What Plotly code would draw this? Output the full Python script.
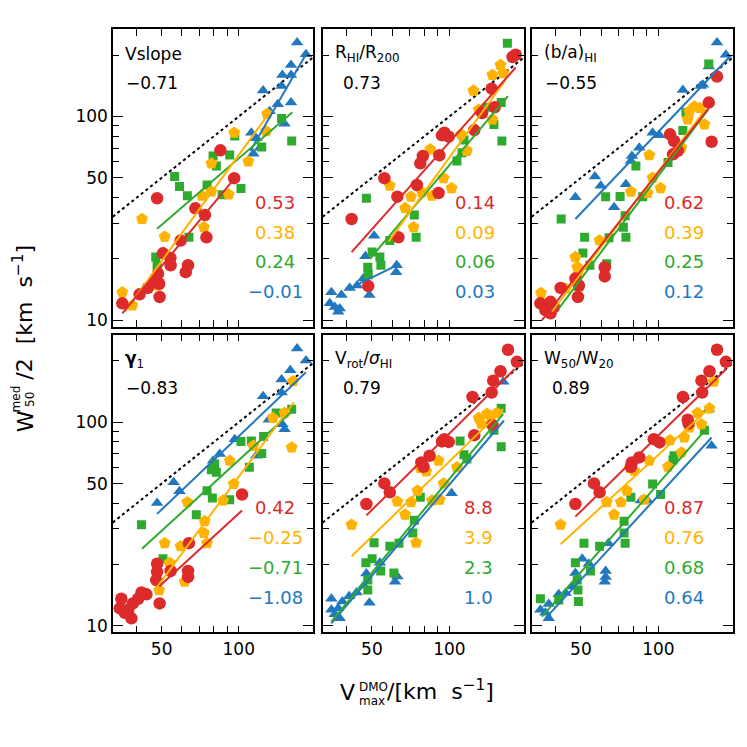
import plotly.graph_objects as go
from plotly.subplots import make_subplots

# ---------------- data ----------------
# Panel 1: Vslope
vslope_red_x = [48.0, 84.8, 96, 67.7, 73.8, 74.8, 59.3, 50.6, 54.1, 54.2, 63.4, 62.1, 48.4, 47.0, 48.9, 44.2, 41.0, 49.1, 35.1]
vslope_red_y = [39.7, 68.2, 49.8, 35.4, 32.8, 25.5, 24.6, 21.3, 20.2, 18.6, 18.6, 17.2, 16.9, 15.9, 15.1, 14.4, 13.4, 13.0, 12.1]
vslope_orange_x = [41.9, 96, 129, 128, 109, 78.2, 71.9, 78.2, 91.4, 73.1, 51.4, 35.1, 38.4, 48.4]
vslope_orange_y = [31.4, 83.2, 103, 84.7, 60.2, 58.8, 40.8, 42.8, 41.4, 28.6, 25.7, 13.7, 11.8, 14.8]
vslope_green_x = [56.2, 58.7, 63.0, 75.2, 79.4, 81.8, 92.2, 96.5, 102, 86.1, 123, 147, 161, 63.9, 47.4, 48.0]
vslope_green_y = [50.7, 45.3, 40.8, 46.1, 64.0, 57.2, 64.7, 80.1, 44.3, 41.3, 70.8, 97.8, 75.8, 25.5, 20.4, 18.6]
vslope_blue_x = [169, 183, 160, 148, 160, 124.5, 147, 142, 160, 132, 151, 112, 117, 114, 121]
vslope_blue_y = [231, 202, 179, 160, 160, 134, 141, 115, 117, 106, 92.1, 83.2, 78.1, 65.7, 70.3]
vslope_fit_x = [[35.1, 99.4], [35.9, 133], [48.0, 162], [111, 181]]
vslope_fit_y = [[10.8, 52.1], [11.0, 106], [28.1, 105], [67.8, 197]]

# Panel 2: R_HI / R_200
rhi_red_x = [181, 176, 146, 150, 134, 125, 95.6, 99.4, 93.6, 91.4, 78.9, 77.1, 55.9, 74.8, 62.8, 90.8, 41.7, 63.4, 48.4]
rhi_red_y = [201, 196, 137, 111, 104, 85.8, 83.2, 79.6, 80.8, 64.5, 64.0, 58.9, 49.8, 46.1, 40.4, 42.1, 31.4, 25.5, 14.7]
rhi_orange_x = [158, 147, 162, 124, 130, 147, 111, 84.3, 117, 95.0, 102, 58.7, 70.9, 78.2, 85.6, 67.3, 72.6]
rhi_orange_y = [179, 160, 163, 134, 108, 96.7, 81.7, 69.0, 67.8, 49.8, 44.5, 45.7, 40.4, 42.4, 40.8, 35.5, 28.6]
rhi_green_x = [168, 159, 140, 149, 160, 114, 112, 107, 47.6, 73.1, 74.3, 58.7, 50.1, 53.7, 54.2, 48.2, 48.4]
rhi_green_y = [229, 117, 111, 91.4, 75.8, 76.6, 66.4, 60.5, 39.7, 32.8, 25.5, 24.6, 21.6, 20.4, 18.6, 18.2, 16.7]
rhi_blue_x = [51.0, 47.2, 62.4, 62.1, 46.3, 48.9, 43.8, 41.0, 38.1, 34.8, 34.3, 35.9, 37.5, 37.0]
rhi_blue_y = [26.0, 20.6, 18.6, 17.2, 16.0, 13.3, 14.8, 14.4, 13.3, 13.7, 12.1, 11.6, 11.4, 11.0]
rhi_fit_x = [[41.7, 181], [58.0, 165], [49.1, 169], [44.6, 64.3]]
rhi_fit_y = [[21.6, 174], [24.3, 151], [20.0, 126], [15.1, 18.9]]

# Panel 3: (b/a)_HI
ba_red_x = [169, 157, 161, 111, 115, 119, 114, 61.9, 61.9, 47.6, 49.1, 48.7, 41.7, 34.8, 38.1, 36.4, 38.1, 39.3]
ba_red_y = [157, 117, 75.2, 81.7, 75.8, 67.8, 65.2, 18.2, 16.4, 16.0, 14.8, 13.0, 14.4, 12.1, 12.3, 11.2, 10.8, 11.6]
ba_orange_x = [144.6, 138, 132, 151, 130, 123, 92.2, 95, 102, 90.8, 78.2, 59.1, 47.6, 48.4, 48.4, 35.0, 43.6]
ba_orange_y = [110, 112, 106, 91.4, 96.7, 70.3, 64.5, 50.1, 44.5, 42.1, 42.7, 24.6, 20.4, 18.2, 16.6, 13.6, 14.3]
ba_green_x = [157, 128, 124.5, 109, 81.8, 62.4, 71.0, 86.9, 74.3, 73.1, 74.8, 64.3, 51.7, 41.9, 50.9, 54.2, 63.0, 49.1]
ba_green_y = [181, 105, 85.4, 59.4, 57.2, 40.4, 40.5, 40.4, 32.6, 28.6, 25.5, 25.4, 25.5, 31.4, 21.4, 18.6, 18.9, 14.6]
ba_blue_x = [169, 183, 157, 146, 149, 124.5, 95, 101, 84.3, 78.9, 78.2, 56.7, 59.7, 74.8, 67.3, 47.6]
ba_blue_y = [231, 201, 176, 141, 143, 135, 83.2, 80.8, 70.3, 64.0, 60.5, 50.7, 45.7, 46.5, 35.8, 40.1]
ba_fit_x = [[35.3, 157], [38.6, 153], [41.0, 156], [47.6, 189]]
ba_fit_y = [[10.0, 110], [11.0, 109], [11.4, 108], [31.4, 196]]

# Panel 4: gamma_1
gam_red_x = [103, 63.9, 54.2, 63.4, 63.4, 48.0, 48.0, 47.6, 43.6, 41.7, 40.5, 38.6, 49.1, 34.8, 34.3, 35.9, 38.1, 37.0]
gam_red_y = [44.2, 25.5, 18.6, 18.6, 17.4, 20.2, 18.4, 16.8, 14.3, 14.6, 13.6, 12.9, 12.9, 13.6, 12.2, 11.6, 10.9, 12.0]
gam_orange_x = [163, 136, 151, 161, 114, 92.2, 95.6, 86.9, 63.0, 73.6, 73.1, 75.2, 59.3, 51.4, 53.7, 61.5, 48.9]
gam_orange_y = [159, 105, 111, 75.2, 76.6, 64.7, 49.8, 41.3, 40.5, 32.7, 28.6, 25.5, 24.6, 25.5, 20.4, 16.5, 15.0]
gam_green_x = [41.7, 50.6, 68.3, 75.2, 78.9, 92.2, 78.2, 81.8, 80.5, 102, 112, 110, 123, 125, 140, 161]
gam_green_y = [31.4, 21.4, 35.1, 46.1, 42.5, 41.6, 58.5, 56.8, 62.4, 80.5, 81.0, 60.2, 70.3, 85.1, 111, 116]
gam_blue_x = [169, 183, 159, 147, 147, 124.5, 131, 148, 151, 96.5, 84.3, 79.4, 117, 55.7, 58.7, 48.0]
gam_blue_y = [230, 201, 180, 162, 140, 134, 103, 97.8, 92.4, 82.6, 69.8, 64.7, 68.5, 50.7, 45.8, 40.1]
gam_fit_x = [[48.9, 103], [47.0, 164], [41.9, 165], [48.0, 183]]
gam_fit_y = [[15.6, 36.9], [15.0, 125], [23.9, 116], [35.5, 176]]

# Panel 5: V_rot / sigma_HI
vrot_red_x = [169, 183, 158, 148, 146, 123, 147, 125, 95.6, 99.4, 93.6, 83.8, 77.8, 79.4, 55.9, 58.7, 47.6]
vrot_red_y = [227, 198, 178, 160, 140, 133, 97.0, 86.4, 82.6, 80.1, 80.5, 68.5, 63.5, 60.5, 50.1, 45.3, 39.7]
vrot_orange_x = [153, 140, 130, 133, 144.6, 77.1, 81.3, 90.8, 107, 75.2, 62.8, 71.0, 67.3, 85.6, 91.7, 95, 41.7, 74.3]
vrot_orange_y = [111, 110, 105, 98.5, 107, 59.6, 57.4, 64.7, 60.2, 46.1, 40.8, 40.5, 35.2, 41.3, 41.7, 50.1, 31.4, 25.6]
vrot_green_x = [159, 149, 159, 110, 114, 117, 77.1, 73.1, 72.1, 63.7, 58.7, 51.0, 50.1, 47.4, 54.1, 60.9, 48.2, 48.2]
vrot_green_y = [117, 91.4, 75.8, 81.0, 69.2, 66.0, 42.8, 33.0, 28.6, 25.5, 24.6, 25.6, 21.4, 20.4, 18.6, 18.2, 16.8, 15.0]
vrot_blue_x = [162, 102, 53.7, 62.8, 61.5, 47.6, 46.5, 48.9, 43.6, 40.8, 38.4, 34.8, 34.8, 37.0, 35.9, 37.5]
vrot_blue_y = [158, 44.8, 20.4, 17.5, 16.5, 18.1, 15.8, 13.0, 14.6, 14.0, 13.2, 13.6, 12.0, 12.2, 11.4, 10.9]
vrot_fit_x = [[47.6, 179], [41.7, 162], [34.8, 162], [34.8, 163]]
vrot_fit_y = [[34.9, 182], [22.0, 116], [10.5, 110], [10.3, 102]]

# Panel 6: W50 / W20
w_red_x = [169, 183, 158, 147, 148, 124.5, 130, 131, 96, 101, 84.3, 78.9, 78.2, 56.2, 59.1, 47.6]
w_red_y = [227, 198, 178, 160, 140, 133, 103, 98.5, 82.6, 79.6, 67.2, 63.5, 60.5, 50.1, 45.3, 39.7]
w_orange_x = [164, 158, 142, 147, 132, 126, 111, 123, 92.2, 109, 77.5, 80.5, 75.4, 63.0, 71.5, 67.3, 88.1, 41.7]
w_orange_y = [158, 117, 111, 97.8, 94.2, 84.2, 81.7, 71.1, 64.7, 60.5, 59.6, 57.8, 46.1, 40.5, 40.5, 35.2, 41.7, 31.4]
w_green_x = [151, 114, 115, 95, 102, 78.2, 73.6, 73.6, 74.3, 59.1, 51.4, 47.6, 54.5, 48.4, 48.7, 48.9, 34.8, 41.0]
w_green_y = [91.4, 65.2, 68.5, 49.8, 44.2, 42.8, 32.7, 28.6, 25.5, 24.6, 25.5, 20.4, 18.6, 16.8, 15.0, 13.2, 13.6, 13.4]
w_blue_x = [157, 161, 90.8, 85.6, 63.9, 50.6, 53.7, 62.4, 62.4, 61.9, 47.6, 46.3, 43.6, 41.0, 37.5, 34.8, 36.4, 37.5]
w_blue_y = [116, 76.6, 41.3, 41.3, 25.5, 21.4, 20.2, 18.6, 17.4, 16.5, 18.2, 15.6, 14.5, 14.3, 12.8, 12.0, 11.6, 10.9]
w_fit_x = [[47.6, 184], [41.7, 161], [35.3, 155], [36.4, 161]]
w_fit_y = [[34.4, 183], [25.2, 120], [11.1, 94.2], [10.9, 84.2]]

panel_labels = ["Vslope", "R<sub>HI</sub>/R<sub>200</sub>", "(b/a)<sub>HI</sub>",
                "<b>γ</b><sub>1</sub>", "V<sub>rot</sub>/<i>σ</i><sub>HI</sub>", "W<sub>50</sub>/W<sub>20</sub>"]
panel_rho = ["−0.71", "0.73", "−0.55", "−0.83", "0.79", "0.89"]
panel_coeffs = [["0.53", "0.38", "0.24", "−0.01"],
                ["0.14", "0.09", "0.06", "0.03"],
                ["0.62", "0.39", "0.25", "0.12"],
                ["0.42", "−0.25", "−0.71", "−1.08"],
                ["8.8", "3.9", "2.3", "1.0"],
                ["0.87", "0.76", "0.68", "0.64"]]
one_to_one = [25, 250]

y_tickvals = [10, 50, 100]
y_minor = [20, 30, 40, 60, 70, 80, 90, 200]
x_tickvals = [50, 100]
x_minor = [40, 60, 70, 80, 90]

# ---------------- styling ----------------
COLORS = ["#DD2A2A", "#FFB300", "#2EAA2E", "#2278BE"]
SYMBOLS = ["circle", "pentagon", "square", "triangle-up"]
SIZES = [12.5, 12.5, 9, 11]
FONT = "DejaVu Sans"

panels = [
    (vslope_red_x, vslope_red_y, vslope_orange_x, vslope_orange_y, vslope_green_x, vslope_green_y, vslope_blue_x, vslope_blue_y, vslope_fit_x, vslope_fit_y),
    (rhi_red_x, rhi_red_y, rhi_orange_x, rhi_orange_y, rhi_green_x, rhi_green_y, rhi_blue_x, rhi_blue_y, rhi_fit_x, rhi_fit_y),
    (ba_red_x, ba_red_y, ba_orange_x, ba_orange_y, ba_green_x, ba_green_y, ba_blue_x, ba_blue_y, ba_fit_x, ba_fit_y),
    (gam_red_x, gam_red_y, gam_orange_x, gam_orange_y, gam_green_x, gam_green_y, gam_blue_x, gam_blue_y, gam_fit_x, gam_fit_y),
    (vrot_red_x, vrot_red_y, vrot_orange_x, vrot_orange_y, vrot_green_x, vrot_green_y, vrot_blue_x, vrot_blue_y, vrot_fit_x, vrot_fit_y),
    (w_red_x, w_red_y, w_orange_x, w_orange_y, w_green_x, w_green_y, w_blue_x, w_blue_y, w_fit_x, w_fit_y),
]
coef_xpos = [0.81, 0.755, 0.758, 0.81, 0.775, 0.757]

# the page body adds an 8px offset; figure is 739 px and positions are shifted by -8
W = H = 739
OFF = 8
def px_x(v):
    return (v - OFF) / W
def px_y(v):
    return 1 - (v - OFF) / H

xdom = [(px_x(113), px_x(313)), (px_x(323), px_x(524)), (px_x(532), px_x(733))]
ydom = [(px_y(328), px_y(29)), (px_y(635), px_y(336))]

fig = make_subplots(rows=2, cols=3)

for i, p in enumerate(panels):
    row, col = i // 3 + 1, i % 3 + 1
    xs = [p[0], p[2], p[4], p[6]]
    ys = [p[1], p[3], p[5], p[7]]
    fx, fy = p[8], p[9]
    fig.add_trace(go.Scatter(x=one_to_one, y=one_to_one, mode="lines",
                             line=dict(color="black", width=2, dash="dot"),
                             showlegend=False, hoverinfo="skip"), row=row, col=col)
    for k in [3, 2, 1, 0]:
        fig.add_trace(go.Scatter(x=xs[k], y=ys[k], mode="markers",
                                 marker=dict(color=COLORS[k], symbol=SYMBOLS[k], size=SIZES[k],
                                             line=dict(width=0)),
                                 showlegend=False), row=row, col=col)
    for k in [3, 2, 1, 0]:
        fig.add_trace(go.Scatter(x=fx[k], y=fy[k], mode="lines",
                                 line=dict(color=COLORS[k], width=2),
                                 showlegend=False, hoverinfo="skip"), row=row, col=col)

    axn = "" if i == 0 else str(i + 1)
    xref = f"x{axn} domain"
    yref = f"y{axn} domain"
    fig.add_annotation(x=0.05, y=1 - 25 / 299, xref=xref, yref=yref, text=panel_labels[i],
                       showarrow=False, xanchor="left", yanchor="middle",
                       font=dict(family=FONT, size=17, color="black"))
    fig.add_annotation(x=0.195, y=1 - 54 / 299, xref=xref, yref=yref, text=panel_rho[i],
                       showarrow=False, xanchor="center", yanchor="middle",
                       font=dict(family=FONT, size=17, color="black"))
    for k in range(4):
        fig.add_annotation(x=coef_xpos[i], y=1 - (174 + 30 * k) / 299, xref=xref, yref=yref,
                           text=panel_coeffs[i][k], showarrow=False, xanchor="center",
                           yanchor="middle", font=dict(family=FONT, size=18, color=COLORS[k]))

    xd = xdom[col - 1]
    yd = ydom[row - 1]
    fig.update_xaxes(type="log", range=[1.509, 2.290], domain=list(xd),
                     tickmode="array", tickvals=x_tickvals,
                     ticks="inside", ticklen=7, tickwidth=1.3, tickcolor="black",
                     minor=dict(tickmode="array", tickvals=x_minor, ticks="inside",
                                ticklen=7, tickwidth=1.3, tickcolor="black", showgrid=False),
                     showline=True, linecolor="black", linewidth=1.5, mirror="ticks",
                     showgrid=False, zeroline=False,
                     showticklabels=(row == 2),
                     tickfont=dict(family=FONT, size=17, color="black"),
                     row=row, col=col)
    fig.update_yaxes(type="log", range=[0.968, 2.430], domain=list(yd),
                     tickmode="array", tickvals=y_tickvals,
                     ticks="inside", ticklen=10, tickwidth=1.3, tickcolor="black",
                     minor=dict(tickmode="array", tickvals=y_minor, ticks="inside",
                                ticklen=6, tickwidth=1.3, tickcolor="black", showgrid=False),
                     showline=True, linecolor="black", linewidth=1.5, mirror="ticks",
                     showgrid=False, zeroline=False,
                     showticklabels=(col == 1),
                     tickfont=dict(family=FONT, size=17, color="black"),
                     row=row, col=col)

# x-axis title (stacked super/subscript built from pieces)
TF = dict(family=FONT, color="black")
fig.add_annotation(x=px_x(357), y=px_y(695), xref="paper", yref="paper", text="V",
                   showarrow=False, xanchor="right", yanchor="middle", font=dict(size=22, **TF))
fig.add_annotation(x=px_x(357), y=px_y(690), xref="paper", yref="paper", text="DMO",
                   showarrow=False, xanchor="left", yanchor="middle", font=dict(size=12, **TF))
fig.add_annotation(x=px_x(357), y=px_y(704), xref="paper", yref="paper", text="max",
                   showarrow=False, xanchor="left", yanchor="middle", font=dict(size=12, **TF))
fig.add_annotation(x=px_x(385), y=px_y(693), xref="paper", yref="paper",
                   text="/[km  s<sup>−1</sup>]",
                   showarrow=False, xanchor="left", yanchor="middle", font=dict(size=22, **TF))

# y-axis title (rotated, pieces)
fig.add_annotation(x=px_x(25), y=px_y(423), xref="paper", yref="paper", text="W",
                   textangle=-90, showarrow=False, xanchor="center", yanchor="middle",
                   font=dict(size=22, **TF))
fig.add_annotation(x=px_x(16), y=px_y(401), xref="paper", yref="paper", text="med",
                   textangle=-90, showarrow=False, xanchor="center", yanchor="middle",
                   font=dict(size=12, **TF))
fig.add_annotation(x=px_x(30.5), y=px_y(401), xref="paper", yref="paper", text="50",
                   textangle=-90, showarrow=False, xanchor="center", yanchor="middle",
                   font=dict(size=12, **TF))
fig.add_annotation(x=px_x(23), y=px_y(314), xref="paper", yref="paper",
                   text="/2  [km  s<sup>−1</sup>]",
                   textangle=-90, showarrow=False, xanchor="center", yanchor="middle",
                   font=dict(size=22, **TF))

fig.update_layout(width=W, height=H, margin=dict(l=0, r=0, t=0, b=0),
                  paper_bgcolor="white", plot_bgcolor="white",
                  font=dict(family=FONT, color="black"), showlegend=False)

fig.write_html("out.html")
